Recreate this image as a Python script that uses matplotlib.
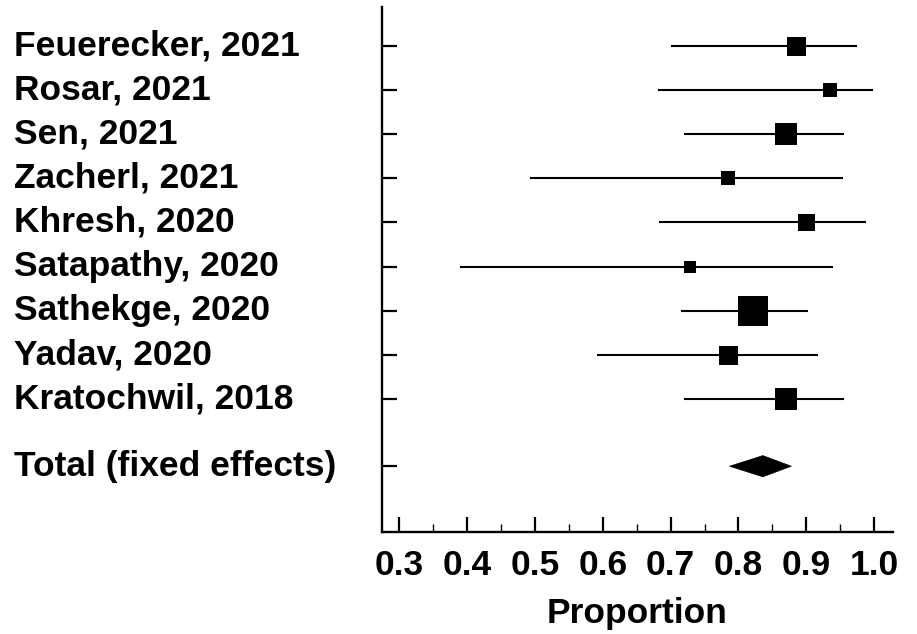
import matplotlib
matplotlib.use("Agg")
import matplotlib.pyplot as plt
from matplotlib.patches import Polygon
from matplotlib.transforms import blended_transform_factory
import numpy as np

studies = ["Feuerecker, 2021", "Rosar, 2021", "Sen, 2021", "Zacherl, 2021",
           "Khresh, 2020", "Satapathy, 2020", "Sathekge, 2020", "Yadav, 2020",
           "Kratochwil, 2018"]
proportion = [0.885, 0.935, 0.870, 0.785, 0.900, 0.728, 0.822, 0.785, 0.870]
ci_low = [0.700, 0.681, 0.719, 0.493, 0.683, 0.390, 0.715, 0.591, 0.719]
ci_high = [0.975, 0.999, 0.956, 0.954, 0.988, 0.940, 0.902, 0.917, 0.956]
weights = [324, 169, 441, 169, 256, 121, 841, 324, 441]  # relative study weights

total_label = "Total (fixed effects)"
total_est = 0.836
total_low = 0.787
total_high = 0.878

xticks = [0.3, 0.4, 0.5, 0.6, 0.7, 0.8, 0.9, 1.0]
xlabel = "Proportion"

plt.rcParams['font.family'] = ['Liberation Sans', 'DejaVu Sans']
plt.rcParams['font.weight'] = 'bold'

FS = 25.5
W, H = 917, 634
fig = plt.figure(figsize=(W / 100, H / 100), dpi=100)
ax = fig.add_axes([382 / W, 1 - 532 / H, (893 - 382) / W, (532 - 7) / H])

ypos = list(range(len(studies)))
ytotal = len(studies) - 1 + 1.52

for y, p, lo, hi, w in zip(ypos, proportion, ci_low, ci_high, weights):
    ax.plot([lo, hi], [y, y], color='black', lw=1.5, solid_capstyle='butt', zorder=2)
    side_px = np.sqrt(w) + 1
    ax.plot([p], [y], marker='s', color='black', markersize=side_px * 72 / 100,
            markeredgewidth=0, zorder=3)

dh = 0.24
diamond = Polygon([[total_low, ytotal], [total_est, ytotal - dh],
                   [total_high, ytotal], [total_est, ytotal + dh]],
                  closed=True, facecolor='black', edgecolor='black', lw=0.5)
ax.add_patch(diamond)

ax.set_xlim(0.2743, 1.028)
ax.set_ylim(ytotal + 1.49, -0.88)

for s in ['top', 'right']:
    ax.spines[s].set_visible(False)
for s in ['left', 'bottom']:
    ax.spines[s].set_linewidth(1.7)

ax.set_xticks(xticks)
ax.set_xticklabels([f"{v:.1f}" for v in xticks], fontsize=FS, fontweight='bold')
ax.set_xticks(np.arange(0.35, 1.0, 0.1), minor=True)
ax.tick_params(axis='x', which='major', direction='in', length=11, width=1.6, pad=12)
ax.tick_params(axis='x', which='minor', direction='in', length=6, width=1.0)

ax.set_yticks(ypos + [ytotal])
ax.set_yticklabels([])
ax.tick_params(axis='y', which='major', direction='in', length=11, width=1.6)

ax.set_xlabel(xlabel, fontsize=FS, fontweight='bold', labelpad=11)

trans = blended_transform_factory(fig.transFigure, ax.transData)
for y, name in zip(ypos, studies):
    ax.text(14 / W, y, name, transform=trans, ha='left', va='center',
            fontsize=FS, fontweight='bold')
ax.text(14 / W, ytotal, total_label, transform=trans, ha='left', va='center',
        fontsize=FS, fontweight='bold')

fig.savefig("out.png", dpi=100)
